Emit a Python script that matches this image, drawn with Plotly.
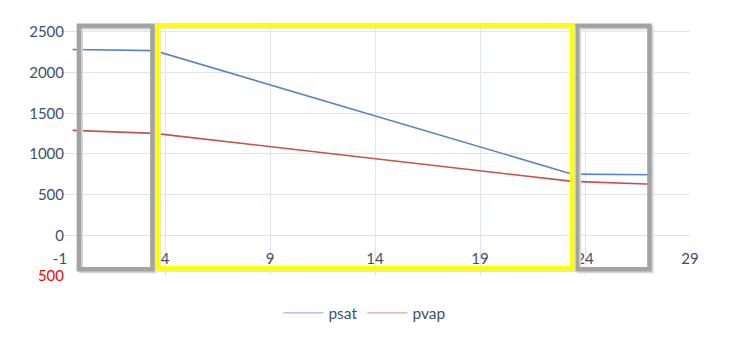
import plotly.graph_objects as go

# data
x_vals = [-0.4, 3.5, 23.4, 27.25]
psat = [2285, 2270, 752, 745]
pvap = [1290, 1253, 663, 627]

x_ticks = [-1, 4, 9, 14, 19, 24, 29]
y_ticks = [-500, 0, 500, 1000, 1500, 2000, 2500]
y_ticktext = ['<span style="color:#FF0000">500</span>', "0", "500", "1000", "1500", "2000", "2500"]

# highlighted regions (x0, x1, y0, y1) in data units
gray_regions = [(-0.1, 3.40, -418, 2576), (23.62, 27.07, -418, 2576)]
yellow_region = (3.64, 23.38, -406, 2582)

Y_MIN, Y_MAX = -500, 2610
TXT = "#3D4F6E"
FONT = "Lato"

fig = go.Figure()
fig.add_trace(go.Scatter(x=x_vals, y=psat, mode="lines", name="psat", showlegend=False,
                         line=dict(color="#5A85C3", width=1.6)))
fig.add_trace(go.Scatter(x=x_vals, y=pvap, mode="lines", name="pvap", showlegend=False,
                         line=dict(color="#C9504D", width=1.6)))
# legend entries (lighter swatches, as in the reference)
fig.add_trace(go.Scatter(x=[None], y=[None], mode="lines", name="psat",
                         line=dict(color="#9BB3DA", width=1.3)))
fig.add_trace(go.Scatter(x=[None], y=[None], mode="lines", name="pvap",
                         line=dict(color="#E0A0A0", width=1.3)))

shapes = []
for (x0, x1, y0, y1) in gray_regions:
    shapes.append(dict(type="rect", xref="x", yref="y", x0=x0 + 0.1, x1=x1 + 0.1,
                       y0=y0 - 25, y1=y1 - 25, line=dict(color="#D6D6D6", width=4), layer="above"))
    shapes.append(dict(type="rect", xref="x", yref="y", x0=x0, x1=x1, y0=y0, y1=y1,
                       line=dict(color="#A3A3A3", width=4.5), layer="above"))
x0, x1, y0, y1 = yellow_region
shapes.append(dict(type="rect", xref="x", yref="y", x0=x0 + 0.1, x1=x1 + 0.1,
                   y0=y0 - 25, y1=y1 - 25, line=dict(color="#E8E8C0", width=3), layer="above"))
shapes.append(dict(type="rect", xref="x", yref="y", x0=x0, x1=x1, y0=y0, y1=y1,
                   line=dict(color="#FFFF00", width=4.5), layer="above"))

zero_pos = (0 - Y_MIN) / (Y_MAX - Y_MIN)

fig.update_layout(
    width=734, height=353,
    margin=dict(l=60, r=44, t=23, b=77),
    paper_bgcolor="white", plot_bgcolor="white",
    font=dict(family=FONT, size=15, color=TXT),
    showlegend=True,
    legend=dict(orientation="h", x=0.484, xanchor="center", y=-0.08, yanchor="top",
                yref="paper", font=dict(size=15.5, color=TXT), itemwidth=40,
                tracegroupgap=0),
    shapes=shapes,
    xaxis=dict(range=[-1, 29], tickvals=x_ticks, ticktext=[str(v) for v in x_ticks],
               showgrid=True, gridcolor="#DCE6F2", gridwidth=1, zeroline=False,
               showline=False, ticks="", anchor="free", position=zero_pos,
               ticklabelstandoff=13, tickfont=dict(size=15, color=TXT, family=FONT)),
    yaxis=dict(range=[Y_MIN, Y_MAX], tickvals=y_ticks, ticktext=y_ticktext,
               showgrid=True, gridcolor="#DCE6F2", gridwidth=1, zeroline=False,
               showline=False, ticks="", ticklabelstandoff=-5,
               tickfont=dict(size=15, color=TXT, family=FONT)),
)

fig.write_html("out.html")
